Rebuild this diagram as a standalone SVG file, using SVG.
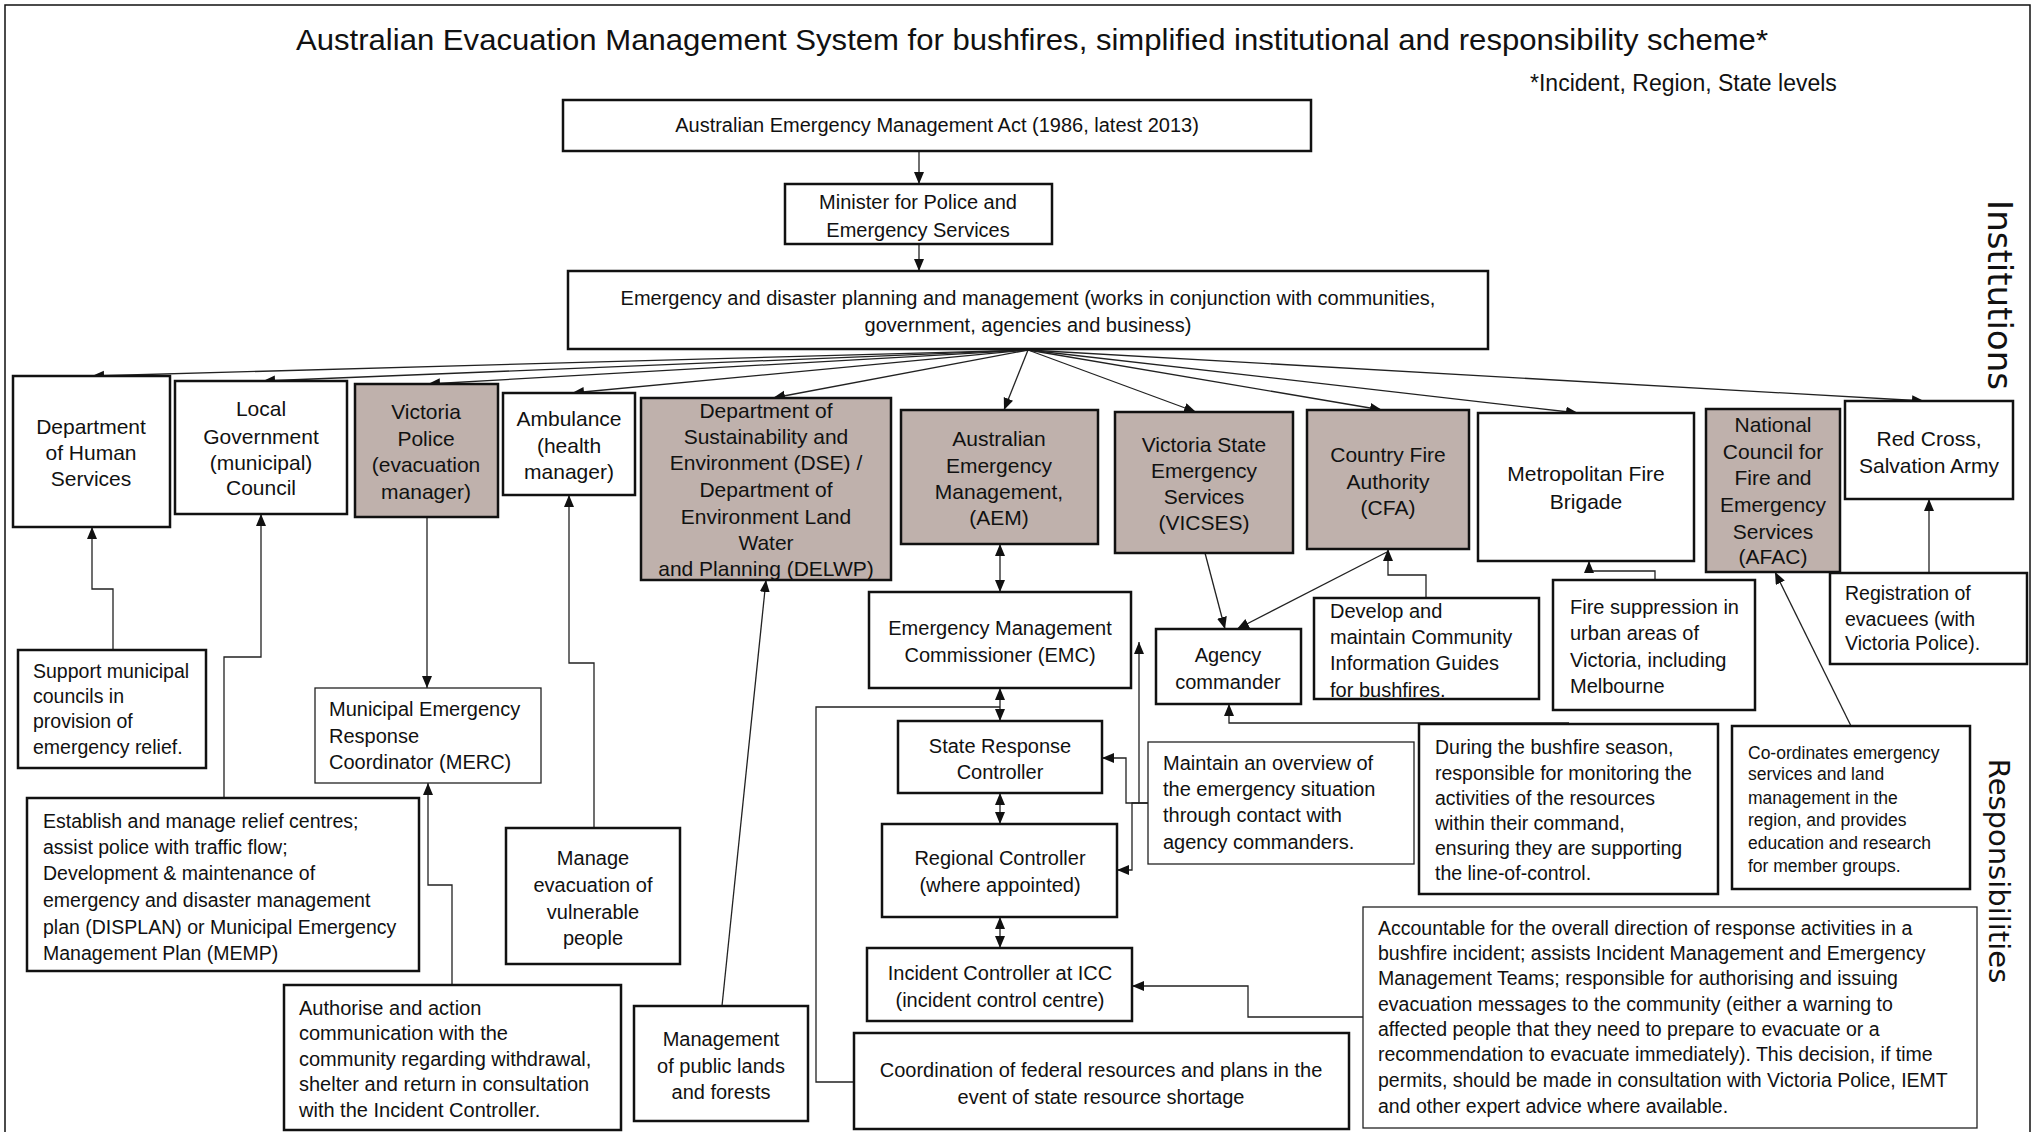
<svg xmlns="http://www.w3.org/2000/svg" width="2038" height="1132" viewBox="0 0 2038 1132">
<style>
text{font-family:"Liberation Sans",Arial,sans-serif;fill:#111}
.b{fill:#fff;stroke:#111;stroke-width:2.5}
.s{fill:#bfb1ac;stroke:#111;stroke-width:2.5}
.n{fill:#fff;stroke:#222;stroke-width:1.3}
.ti{font-size:21px;text-anchor:middle}
.tc{font-size:20px;text-anchor:middle}
.t{font-size:19.5px}
.t2{font-size:20px}
.sm{font-size:17.5px}
.side{font-family:"DejaVu Sans",sans-serif;text-anchor:middle}
#connectors path,#connectors line{fill:none;stroke:#222;stroke-width:1.3}
.a{marker-end:url(#ah)}
.d{marker-start:url(#ah2);marker-end:url(#ah)}
</style>
<defs>
<marker id="ah" markerUnits="userSpaceOnUse" markerWidth="13" markerHeight="11" refX="12" refY="5" orient="auto"><path d="M0,0 L12,5 L0,10 z" fill="#111"/></marker>
<marker id="ah2" markerUnits="userSpaceOnUse" markerWidth="13" markerHeight="11" refX="12" refY="5" orient="auto-start-reverse"><path d="M0,0 L12,5 L0,10 z" fill="#111"/></marker>
</defs>
<rect width="2038" height="1132" fill="#fff"/>
<path d="M5,1140 V5 H2030 V1140" fill="none" stroke="#111" stroke-width="1.5"/>

<text x="1032" y="50" font-size="30" text-anchor="middle" textLength="1472" lengthAdjust="spacingAndGlyphs">Australian Evacuation Management System for bushfires, simplified institutional and responsibility scheme*</text>
<text x="1530" y="91" font-size="23">*Incident, Region, State levels</text>
<text class="side" font-size="34" transform="translate(1988,295) rotate(90)">Institutions</text>
<text class="side" font-size="29" transform="translate(1989,871) rotate(90)">Responsibilities</text>

<g id="connectors">
<path class="a" d="M919,151 V184"/>
<path class="a" d="M919,244 V271"/>
<path class="a" d="M1028,350 L92,376"/>
<path class="a" d="M1028,350 L263,381"/>
<path class="a" d="M1028,350 L428,384"/>
<path class="a" d="M1028,350 L572,393"/>
<path class="a" d="M1028,350 L773,398"/>
<path class="a" d="M1028,350 L1004,410"/>
<path class="a" d="M1028,350 L1196,412"/>
<path class="a" d="M1028,350 L1382,410"/>
<path class="a" d="M1028,350 L1578,413"/>
<path class="a" d="M1028,350 L1924,401"/>
<path class="a" d="M113,650 V589 H92 V527"/>
<path class="a" d="M224,798 V657 H261 V514"/>
<path class="a" d="M427,517 V688"/>
<path class="a" d="M452,985 V885 H428 V783"/>
<path class="a" d="M594,828 V663 H569 V495"/>
<path class="a" d="M722,1006 L766,580"/>
<path d="M854,1082 H816 V707 H1000"/>
<path class="d" d="M1000,544 V592"/>
<path class="d" d="M1000,688 V721"/>
<path class="d" d="M1000,793 V824"/>
<path class="d" d="M1000,917 V948"/>
<path class="a" d="M1363,1017 H1248 V986 H1132"/>
<path class="a" d="M1148,803 H1139 V642"/>
<path class="a" d="M1148,803 H1126 V758 H1102"/>
<path class="a" d="M1139,803 H1132 V870 H1117"/>
<path class="a" d="M1205,553 L1225,629"/>
<path class="a" d="M1387,552 L1237,629"/>
<path class="a" d="M1426,598 V575 H1388 V549"/>
<path class="a" d="M1569,723 H1229 V704"/>
<path class="a" d="M1655,580 V571 H1589 V561"/>
<path class="a" d="M1851,726 L1775,572"/>
<path class="a" d="M1929,573 V499"/>
</g>

<g id="act"><rect class="b" x="563" y="100" width="748" height="51"/><text class="tc" x="937" y="132">Australian Emergency Management Act (1986, latest 2013)</text></g>
<g id="minister"><rect class="b" x="785" y="184" width="267" height="60"/><text class="tc" x="918" y="209">Minister for Police and</text><text class="tc" x="918" y="237">Emergency Services</text></g>
<g id="planning"><rect class="b" x="568" y="271" width="920" height="78"/><text class="tc" x="1028" y="305">Emergency and disaster planning and management (works in conjunction with communities,</text><text class="tc" x="1028" y="332">government, agencies and business)</text></g>

<g id="dhs"><rect class="b" x="13" y="376" width="157" height="151"/><text class="ti" x="91" y="434">Department</text><text class="ti" x="91" y="460">of Human</text><text class="ti" x="91" y="486">Services</text></g>
<g id="localgov"><rect class="b" x="175" y="381" width="172" height="133"/><text class="ti" x="261" y="416">Local</text><text class="ti" x="261" y="444">Government</text><text class="ti" x="261" y="470">(municipal)</text><text class="ti" x="261" y="495">Council</text></g>
<g id="police"><rect class="s" x="355" y="384" width="143" height="133"/><text class="ti" x="426" y="419">Victoria</text><text class="ti" x="426" y="446">Police</text><text class="ti" x="426" y="472">(evacuation</text><text class="ti" x="426" y="499">manager)</text></g>
<g id="ambulance"><rect class="b" x="503" y="393" width="132" height="102"/><text class="ti" x="569" y="426">Ambulance</text><text class="ti" x="569" y="453">(health</text><text class="ti" x="569" y="479">manager)</text></g>
<g id="dse"><rect class="s" x="641" y="398" width="250" height="182"/><text class="ti" x="766" y="418">Department of</text><text class="ti" x="766" y="444">Sustainability and</text><text class="ti" x="766" y="470">Environment (DSE) /</text><text class="ti" x="766" y="497">Department of</text><text class="ti" x="766" y="524">Environment Land</text><text class="ti" x="766" y="550">Water</text><text class="ti" x="766" y="576">and Planning (DELWP)</text></g>
<g id="aem"><rect class="s" x="901" y="410" width="197" height="134"/><text class="ti" x="999" y="446">Australian</text><text class="ti" x="999" y="473">Emergency</text><text class="ti" x="999" y="499">Management,</text><text class="ti" x="999" y="525">(AEM)</text></g>
<g id="vicses"><rect class="s" x="1115" y="412" width="178" height="141"/><text class="ti" x="1204" y="452">Victoria State</text><text class="ti" x="1204" y="478">Emergency</text><text class="ti" x="1204" y="504">Services</text><text class="ti" x="1204" y="530">(VICSES)</text></g>
<g id="cfa"><rect class="s" x="1307" y="410" width="162" height="139"/><text class="ti" x="1388" y="462">Country Fire</text><text class="ti" x="1388" y="489">Authority</text><text class="ti" x="1388" y="515">(CFA)</text></g>
<g id="mfb"><rect class="b" x="1478" y="413" width="216" height="148"/><text class="ti" x="1586" y="481">Metropolitan Fire</text><text class="ti" x="1586" y="509">Brigade</text></g>
<g id="afac"><rect class="s" x="1706" y="409" width="134" height="163"/><text class="ti" x="1773" y="432">National</text><text class="ti" x="1773" y="459">Council for</text><text class="ti" x="1773" y="485">Fire and</text><text class="ti" x="1773" y="512">Emergency</text><text class="ti" x="1773" y="539">Services</text><text class="ti" x="1773" y="564">(AFAC)</text></g>
<g id="redcross"><rect class="b" x="1845" y="401" width="168" height="98"/><text class="ti" x="1929" y="446">Red Cross,</text><text class="ti" x="1929" y="473">Salvation Army</text></g>

<g id="support"><rect class="b" x="18" y="650" width="188" height="118"/><text class="t" x="33" y="678">Support municipal</text><text class="t" x="33" y="703">councils in</text><text class="t" x="33" y="728">provision of</text><text class="t" x="33" y="754">emergency relief.</text></g>
<g id="establish"><rect class="b" x="27" y="798" width="392" height="173"/><text class="t" x="43" y="828">Establish and manage relief centres;</text><text class="t" x="43" y="854">assist police with traffic flow;</text><text class="t" x="43" y="880">Development &amp; maintenance of</text><text class="t" x="43" y="907">emergency and disaster management</text><text class="t" x="43" y="934">plan (DISPLAN) or Municipal Emergency</text><text class="t" x="43" y="960">Management Plan (MEMP)</text></g>
<g id="merc"><rect class="n" x="315" y="688" width="226" height="95"/><text class="t2" x="329" y="716">Municipal Emergency</text><text class="t2" x="329" y="743">Response</text><text class="t2" x="329" y="769">Coordinator (MERC)</text></g>
<g id="manage"><rect class="b" x="506" y="828" width="174" height="136"/><text class="tc" x="593" y="865">Manage</text><text class="tc" x="593" y="892">evacuation of</text><text class="tc" x="593" y="919">vulnerable</text><text class="tc" x="593" y="945">people</text></g>
<g id="authorise"><rect class="b" x="284" y="985" width="337" height="145"/><text class="t2" x="299" y="1015">Authorise and action</text><text class="t2" x="299" y="1040">communication with the</text><text class="t2" x="299" y="1066">community regarding withdrawal,</text><text class="t2" x="299" y="1091">shelter and return in consultation</text><text class="t2" x="299" y="1117">with the Incident Controller.</text></g>
<g id="publiclands"><rect class="b" x="634" y="1006" width="174" height="115"/><text class="tc" x="721" y="1046">Management</text><text class="tc" x="721" y="1073">of public lands</text><text class="tc" x="721" y="1099">and forests</text></g>

<g id="emc"><rect class="b" x="869" y="592" width="262" height="96"/><text class="tc" x="1000" y="635">Emergency Management</text><text class="tc" x="1000" y="662">Commissioner (EMC)</text></g>
<g id="src"><rect class="b" x="898" y="721" width="204" height="72"/><text class="tc" x="1000" y="753">State Response</text><text class="tc" x="1000" y="779">Controller</text></g>
<g id="regional"><rect class="b" x="882" y="824" width="235" height="93"/><text class="tc" x="1000" y="865">Regional Controller</text><text class="tc" x="1000" y="892">(where appointed)</text></g>
<g id="incident"><rect class="b" x="867" y="948" width="265" height="73"/><text class="tc" x="1000" y="980">Incident Controller at ICC</text><text class="tc" x="1000" y="1007">(incident control centre)</text></g>
<g id="coordination"><rect class="b" x="854" y="1033" width="495" height="96"/><text class="tc" x="1101" y="1077">Coordination of federal resources and plans in the</text><text class="tc" x="1101" y="1104">event of state resource shortage</text></g>

<g id="agency"><rect class="b" x="1156" y="629" width="145" height="75"/><text class="tc" x="1228" y="662">Agency</text><text class="tc" x="1228" y="689">commander</text></g>
<g id="develop"><rect class="b" x="1314" y="598" width="225" height="101"/><text class="t2" x="1330" y="618">Develop and</text><text class="t2" x="1330" y="644">maintain Community</text><text class="t2" x="1330" y="670">Information Guides</text><text class="t2" x="1330" y="697">for bushfires.</text></g>
<g id="fire"><rect class="b" x="1553" y="580" width="202" height="130"/><text class="t2" x="1570" y="614">Fire suppression in</text><text class="t2" x="1570" y="640">urban areas of</text><text class="t2" x="1570" y="667">Victoria, including</text><text class="t2" x="1570" y="693">Melbourne</text></g>
<g id="registration"><rect class="b" x="1830" y="573" width="197" height="91"/><text class="t" x="1845" y="600">Registration of</text><text class="t" x="1845" y="626">evacuees (with</text><text class="t" x="1845" y="650">Victoria Police).</text></g>
<g id="maintain"><rect class="n" x="1148" y="742" width="266" height="122"/><text class="t2" x="1163" y="770">Maintain an overview of</text><text class="t2" x="1163" y="796">the emergency situation</text><text class="t2" x="1163" y="822">through contact with</text><text class="t2" x="1163" y="849">agency commanders.</text></g>
<g id="during"><rect class="b" x="1419" y="724" width="299" height="170"/><text class="t" x="1435" y="754">During the bushfire season,</text><text class="t" x="1435" y="780">responsible for monitoring the</text><text class="t" x="1435" y="805">activities of the resources</text><text class="t" x="1435" y="830">within their command,</text><text class="t" x="1435" y="855">ensuring they are supporting</text><text class="t" x="1435" y="880">the line-of-control.</text></g>
<g id="coordinates"><rect class="b" x="1732" y="726" width="238" height="163"/><text class="sm" x="1748" y="759">Co-ordinates emergency</text><text class="sm" x="1748" y="780">services and land</text><text class="sm" x="1748" y="804">management in the</text><text class="sm" x="1748" y="826">region, and provides</text><text class="sm" x="1748" y="849">education and research</text><text class="sm" x="1748" y="872">for member groups.</text></g>
<g id="accountable"><rect class="n" x="1363" y="907" width="614" height="221"/><text class="t" x="1378" y="935">Accountable for the overall direction of response activities in a</text><text class="t" x="1378" y="960">bushfire incident; assists Incident Management and Emergency</text><text class="t" x="1378" y="985">Management Teams; responsible for authorising and issuing</text><text class="t" x="1378" y="1011">evacuation messages to the community (either a warning to</text><text class="t" x="1378" y="1036">affected people that they need to prepare to evacuate or a</text><text class="t" x="1378" y="1061">recommendation to evacuate immediately). This decision, if time</text><text class="t" x="1378" y="1087">permits, should be made in consultation with Victoria Police, IEMT</text><text class="t" x="1378" y="1113">and other expert advice where available.</text></g>
</svg>
